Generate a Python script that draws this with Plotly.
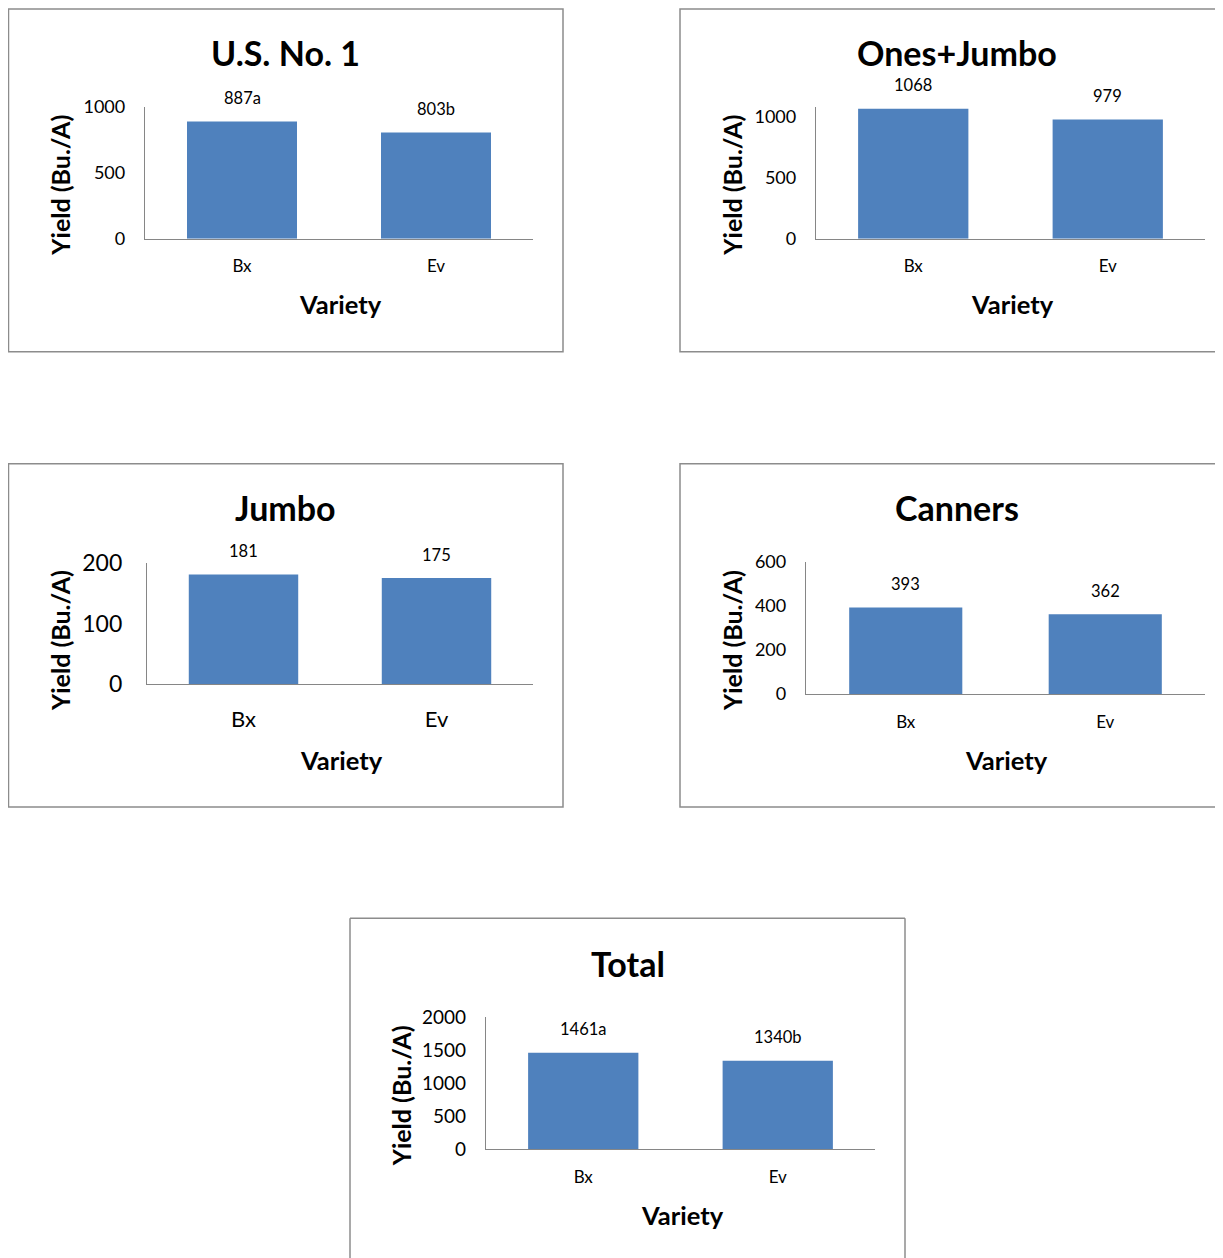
import plotly.graph_objects as go

# ---------------- data ----------------
categories = ["Bx", "Ev"]

us1_values = [887, 803]
us1_labels = ["887a", "803b"]
us1_ticks = [0, 500, 1000]

ones_jumbo_values = [1068, 979]
ones_jumbo_labels = ["1068", "979"]
ones_jumbo_ticks = [0, 500, 1000]

jumbo_values = [181, 175]
jumbo_labels = ["181", "175"]
jumbo_ticks = [0, 100, 200]

canners_values = [393, 362]
canners_labels = ["393", "362"]
canners_ticks = [0, 200, 400, 600]

total_values = [1461, 1340]
total_labels = ["1461a", "1340b"]
total_ticks = [0, 500, 1000, 1500, 2000]

titles = ["U.S. No. 1", "Ones+Jumbo", "Jumbo", "Canners", "Total"]
y_title = "Yield (Bu./A)"
x_title = "Variety"

# ---------------- layout helpers ----------------
OFFX, OFFY = 8, 23
SY = 0.977
W, H = 1207, 1257
FONT = "Lato, 'Open Sans', sans-serif"
BAR = "#4F81BD"
AXIS = "#868686"
BOX = "#8C8C8C"


def fx(px):
    return (px - OFFX) / W


def fy(py):
    return 1 - (py / SY - OFFY) / H


series = [
    (us1_values, us1_labels, us1_ticks),
    (ones_jumbo_values, ones_jumbo_labels, ones_jumbo_ticks),
    (jumbo_values, jumbo_labels, jumbo_ticks),
    (canners_values, canners_labels, canners_ticks),
    (total_values, total_labels, total_ticks),
]

geo = [
    dict(ax=(145, 533), ay=(106, 238), ymax=1000, box=(8.5, 8.5, 563, 351),
         title=(285, 52), yt=(60, 185), vt=(340, 303), tf=18, cf=17, df=16.5, cs=12, ts=15),
    dict(ax=(816, 1205), ay=(106, 238), ymax=1085, box=(680, 8.5, 1223, 351),
         title=(957, 52), yt=(732, 185), vt=(1012, 303), tf=18, cf=17, df=16.5, cs=12, ts=15),
    dict(ax=(147, 533), ay=(562, 683), ymax=200, box=(8.5, 463, 563, 806),
         title=(285, 507), yt=(60, 640), vt=(341, 759), tf=23, cf=22, df=16.5, cs=15, ts=19),
    dict(ax=(806, 1205), ay=(561, 693), ymax=600, box=(680, 463, 1223, 806),
         title=(957, 507), yt=(732, 640), vt=(1006, 759), tf=18, cf=17, df=16.5, cs=12, ts=15),
    dict(ax=(486, 875), ay=(1016, 1148), ymax=2000, box=(350, 917, 905, None),
         title=(628, 962), yt=(401, 1095), vt=(682, 1214), tf=19, cf=17, df=16.5, cs=12, ts=15),
]

fig = go.Figure()
annotations = []
shapes = []


def line(x0, y0, x1, y1):
    return dict(type="line", xref="paper", yref="paper",
                x0=fx(x0), x1=fx(x1), y0=fy(y0), y1=fy(y1),
                line=dict(color=BOX, width=1.5), layer="below")


for i, ((vals, labs, ticks), g) in enumerate(zip(series, geo)):
    n = i + 1
    xa = "x" if n == 1 else f"x{n}"
    ya = "y" if n == 1 else f"y{n}"
    fig.add_trace(go.Bar(
        x=categories, y=vals, xaxis=xa, yaxis=ya,
        marker=dict(color=BAR, line=dict(width=0)),
        width=0.567, showlegend=False, hoverinfo="x+y",
    ))
    xkey = "xaxis" if n == 1 else f"xaxis{n}"
    ykey = "yaxis" if n == 1 else f"yaxis{n}"
    fig.update_layout(**{
        xkey: dict(
            domain=[fx(g["ax"][0]), fx(g["ax"][1])],
            anchor=ya, type="category", range=[-0.5, 1.5],
            showline=True, linecolor=AXIS, linewidth=1.3,
            showgrid=False, zeroline=False, ticks="",
            ticklabelstandoff=g["cs"],
            tickfont=dict(family=FONT, size=g["cf"], color="#000000"),
            fixedrange=True,
        ),
        ykey: dict(
            domain=[fy(g["ay"][1]), fy(g["ay"][0])],
            anchor=xa, range=[0, g["ymax"]],
            tickmode="array", tickvals=ticks, ticktext=[str(t) for t in ticks],
            showline=True, linecolor=AXIS, linewidth=1.3,
            showgrid=False, zeroline=False, ticks="",
            ticklabelstandoff=g["ts"],
            tickfont=dict(family=FONT, size=g["tf"], color="#000000"),
            fixedrange=True,
        ),
    })
    for c, v, t in zip(categories, vals, labs):
        annotations.append(dict(
            x=c, y=v, xref=xa, yref=ya, text=t, showarrow=False,
            yanchor="middle", yshift=23.5,
            font=dict(family=FONT, size=g["df"], color="#000000"),
        ))
    annotations.append(dict(
        x=fx(g["title"][0]), y=fy(g["title"][1]), xref="paper", yref="paper",
        text=f"<b>{titles[i]}</b>", showarrow=False,
        xanchor="center", yanchor="middle",
        font=dict(family=FONT, size=34, color="#000000"),
    ))
    annotations.append(dict(
        x=fx(g["yt"][0]), y=fy(g["yt"][1]), xref="paper", yref="paper",
        text=f"<b>{y_title}</b>", showarrow=False, textangle=-90,
        xanchor="center", yanchor="middle",
        font=dict(family=FONT, size=25, color="#000000"),
    ))
    annotations.append(dict(
        x=fx(g["vt"][0]), y=fy(g["vt"][1]), xref="paper", yref="paper",
        text=f"<b>{x_title}</b>", showarrow=False,
        xanchor="center", yanchor="middle",
        font=dict(family=FONT, size=25.5, color="#000000"),
    ))
    bx0, by0, bx1, by1 = g["box"]
    if by1 is None:
        bottom = 1257
        shapes.append(line(bx0, by0, bx1, by0))
        shapes.append(line(bx0, by0, bx0, bottom))
        shapes.append(line(bx1, by0, bx1, bottom))
    else:
        shapes.append(dict(
            type="rect", xref="paper", yref="paper",
            x0=fx(bx0), x1=fx(bx1), y0=fy(by1), y1=fy(by0),
            line=dict(color=BOX, width=1.5), fillcolor="rgba(0,0,0,0)", layer="below",
        ))

fig.update_layout(
    width=W, height=H, autosize=False,
    margin=dict(l=0, r=0, t=0, b=0, pad=0),
    paper_bgcolor="white", plot_bgcolor="white",
    annotations=annotations, shapes=shapes,
    showlegend=False,
    font=dict(family=FONT, color="#000000"),
)

fig.write_html("out.html")
